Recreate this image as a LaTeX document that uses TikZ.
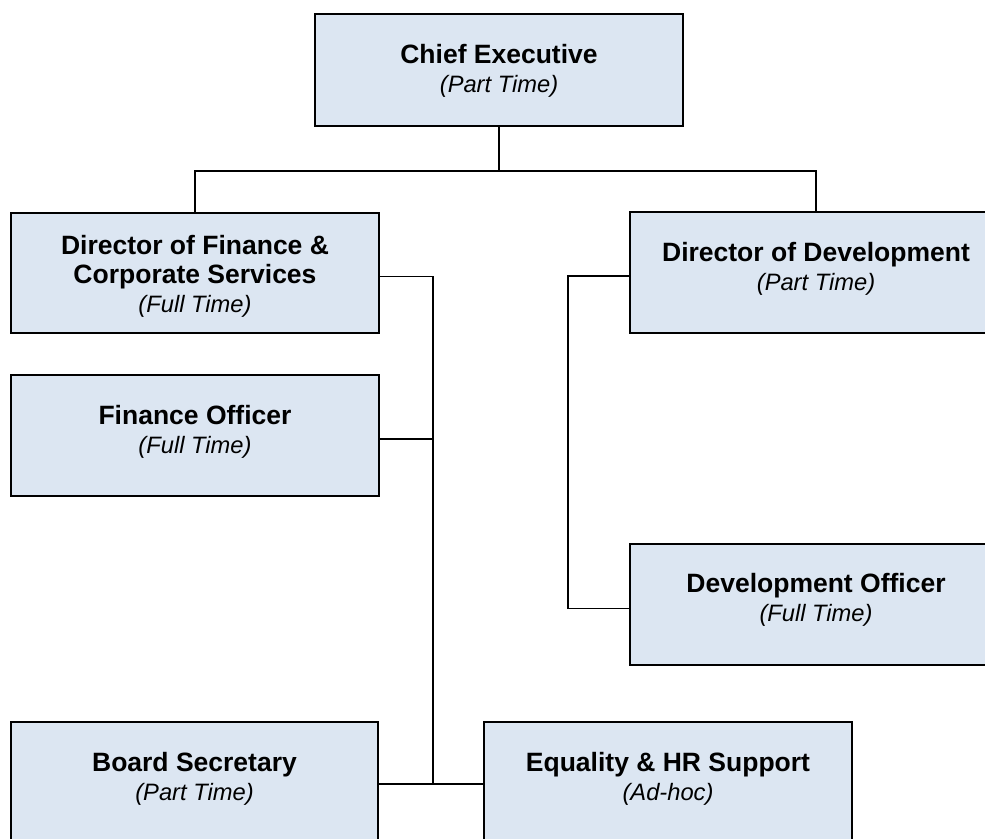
\documentclass[tikz,border=0pt]{standalone}
\usepackage{fontspec}
\setmainfont{Liberation Sans}
\definecolor{boxfill}{HTML}{DCE6F2}
\newcommand\orgtitle[1]{{\fontsize{26.5}{29}\selectfont\bfseries #1}}
\newcommand\orgsubt[1]{{\fontsize{23.7}{28.5}\selectfont\itshape #1}}
\tikzset{
  orgbox/.style={draw=black, fill=boxfill, line width=1.7pt, rectangle, inner sep=0pt},
  lbl/.style={align=center, anchor=base, inner sep=0pt, font=\fontsize{26.5}{29}\selectfont},
  conn/.style={draw=black, line width=1.8pt}
}
\begin{document}
\begin{tikzpicture}[x=1pt,y=-1pt]
\useasboundingbox (0,0) rectangle (985,838);
\clip (0,0) rectangle (985,838);
% boxes
\node[orgbox, minimum width=368pt, minimum height=112pt] (ce) at (499,70) {};
\node[orgbox, minimum width=368pt, minimum height=120pt] (df) at (195,273) {};
\node[orgbox, minimum width=368pt, minimum height=121pt] (fo) at (195,435.5) {};
\node[orgbox, minimum width=372pt, minimum height=121pt] (dd) at (816,272.5) {};
\node[orgbox, minimum width=372pt, minimum height=121pt] (dvo) at (816,604.5) {};
\node[orgbox, minimum width=367pt, minimum height=124pt] (bs) at (194.5,784) {};
\node[orgbox, minimum width=368pt, minimum height=124pt] (eq) at (668,784) {};
% texts (base anchor = baseline of the last line)
\node[lbl] (tce) at ([yshift=-79pt]ce.north) {\orgtitle{Chief Executive}\\\orgsubt{(Part Time)}};
\node[lbl] (tdf) at ([yshift=-100pt]df.north) {\orgtitle{Director of Finance \&}\\\orgtitle{Corporate Services}\\\orgsubt{(Full Time)}};
\node[lbl] (tfo) at ([yshift=-79pt]fo.north) {\orgtitle{Finance Officer}\\\orgsubt{(Full Time)}};
\node[lbl] (tdd) at ([yshift=-79pt]dd.north) {\orgtitle{Director of Development}\\\orgsubt{(Part Time)}};
\node[lbl] (tdvo) at ([yshift=-78pt]dvo.north) {\orgtitle{Development Officer}\\\orgsubt{(Full Time)}};
\node[lbl] (tbs) at ([yshift=-79pt]bs.north) {\orgtitle{Board Secretary}\\\orgsubt{(Part Time)}};
\node[lbl] (teq) at ([yshift=-79pt]eq.north) {\orgtitle{Equality \& HR Support}\\\orgsubt{(Ad-hoc)}};
% connectors
\draw[conn] (ce.south) -- ++(0,44) coordinate (bus);
\draw[conn] (df.north) |- (bus) -| (dd.north);
\draw[conn] ([yshift=-3.5pt]df.east) -- ++(53,0) coordinate (sp) -- (sp |- bs.east) -- (bs.east);
\draw[conn] ([yshift=-3.5pt]fo.east) -- ++(53,0);
\draw[conn] (eq.west) -- (eq.west -| sp);
\draw[conn] ([yshift=-3.5pt]dd.west) -- ++(-61,0) coordinate (sp2) |- ([yshift=-4pt]dvo.west);
\end{tikzpicture}
\end{document}
